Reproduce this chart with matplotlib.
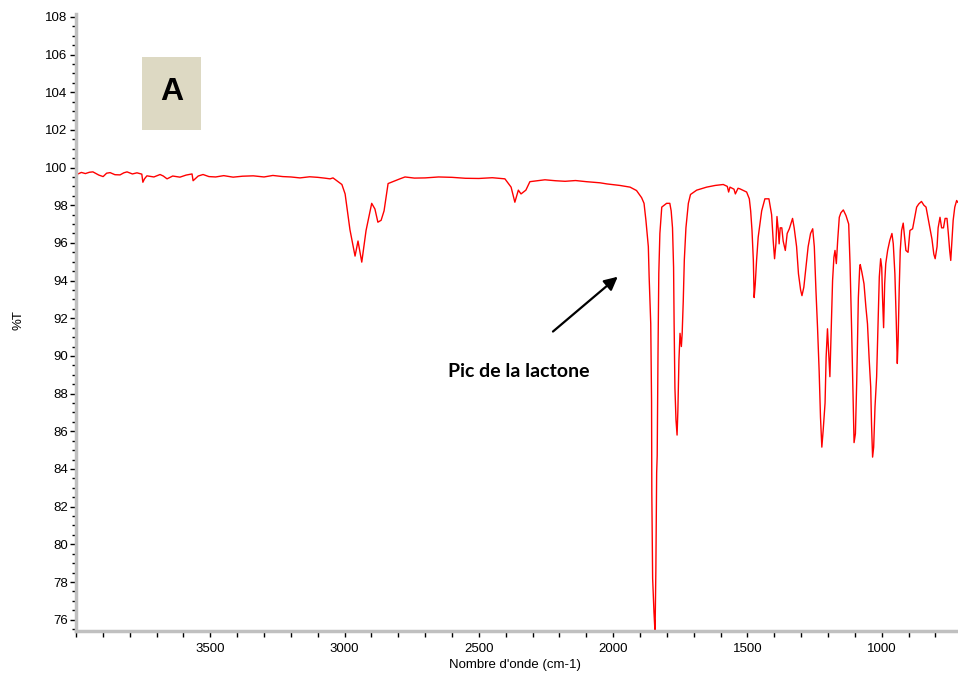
import numpy as np
import matplotlib.pyplot as plt
from matplotlib.ticker import MultipleLocator, FixedLocator
from matplotlib.patches import Rectangle

# spectre IR (nombre d'onde en cm-1, %T)
wavenumber = [
    4000, 3993, 3980, 3965, 3950, 3937, 3915, 3899, 3886, 3873, 3855, 3836, 3822, 3810,
    3790, 3773, 3755, 3751, 3745, 3736, 3710, 3687, 3675, 3661, 3640, 3613, 3590, 3568,
    3564, 3545, 3527, 3505, 3480, 3450, 3415, 3380, 3340, 3300, 3267, 3230, 3200, 3166,
    3130, 3100, 3075, 3054, 3043, 3010, 2998, 2980, 2961, 2950, 2936, 2920, 2899, 2887,
    2876, 2864, 2853, 2838, 2794, 2775, 2740, 2700, 2650, 2600, 2550, 2500, 2450, 2403,
    2380, 2366, 2353, 2343, 2325, 2310, 2254, 2215, 2179, 2140, 2100, 2049, 2023, 1975,
    1937, 1913, 1894, 1885, 1878, 1869, 1866, 1860, 1857, 1856, 1853, 1848, 1844, 1841,
    1838, 1836, 1833, 1830, 1826, 1819, 1801, 1789, 1784, 1779, 1775, 1773, 1770, 1766,
    1762, 1759, 1755, 1751, 1746, 1743, 1739, 1735, 1729, 1720, 1712, 1689, 1652, 1620,
    1590, 1575, 1570, 1565, 1550, 1545, 1535, 1528, 1503, 1493, 1488, 1483, 1478, 1475,
    1471, 1466, 1460, 1447, 1435, 1420, 1410, 1404, 1399, 1394, 1390, 1385, 1382, 1378,
    1372, 1367, 1359, 1352, 1344, 1332, 1326, 1317, 1310, 1302, 1297, 1290, 1282, 1274,
    1265, 1257, 1251, 1245, 1239, 1233, 1228, 1223, 1218, 1211, 1207, 1202, 1198, 1193,
    1188, 1183, 1178, 1174, 1169, 1164, 1158, 1152, 1143, 1133, 1123, 1118, 1112, 1107,
    1103, 1098, 1093, 1087, 1082, 1080, 1074, 1066, 1059, 1053, 1047, 1041, 1038, 1034,
    1030, 1025, 1019, 1014, 1009, 1004, 1000, 997, 993, 989, 985, 978, 970, 962,
    957, 951, 946, 942, 939, 935, 931, 926, 920, 915, 910, 902, 895, 885,
    878, 870, 862, 852, 843, 835, 828, 821, 813, 806, 801, 794, 790, 783,
    777, 770, 764, 757, 752, 747, 743, 740, 734, 728, 721, 717,
]
transmittance = [
    99.70, 99.66, 99.74, 99.68, 99.75, 99.77, 99.60, 99.52, 99.70, 99.73, 99.62, 99.61, 99.72, 99.77,
    99.66, 99.72, 99.65, 99.22, 99.40, 99.56, 99.50, 99.63, 99.55, 99.40, 99.55, 99.49, 99.60, 99.66,
    99.30, 99.55, 99.63, 99.52, 99.50, 99.57, 99.49, 99.54, 99.56, 99.50, 99.58, 99.52, 99.50, 99.45,
    99.51, 99.48, 99.44, 99.40, 99.45, 99.10, 98.60, 96.70, 95.30, 96.10, 94.98, 96.66, 98.10, 97.80,
    97.10, 97.20, 97.70, 99.15, 99.40, 99.50, 99.44, 99.45, 99.50, 99.48, 99.43, 99.42, 99.46, 99.40,
    98.96, 98.16, 98.80, 98.60, 98.80, 99.25, 99.35, 99.30, 99.27, 99.31, 99.25, 99.19, 99.13, 99.05,
    98.96, 98.78, 98.40, 98.10, 97.20, 95.80, 94.20, 91.70, 87.60, 82.70, 78.20, 76.40, 75.30, 78.60,
    83.80, 84.70, 90.10, 94.40, 96.50, 97.90, 98.10, 98.10, 97.70, 96.80, 94.70, 91.70, 88.30, 86.60,
    85.80, 87.10, 89.80, 91.20, 90.50, 91.20, 92.90, 95.10, 96.80, 98.10, 98.57, 98.80, 98.96, 99.05,
    99.10, 99.00, 98.70, 98.96, 98.85, 98.60, 98.90, 98.87, 98.70, 98.34, 97.70, 96.66, 95.07, 93.10,
    93.80, 95.07, 96.30, 97.70, 98.34, 98.34, 97.50, 96.10, 95.16, 95.95, 97.40, 96.66, 95.95, 96.80,
    96.80, 96.10, 95.60, 96.50, 96.75, 97.30, 96.80, 95.80, 94.36, 93.50, 93.20, 93.65, 94.70, 95.80,
    96.50, 96.75, 95.80, 93.50, 91.50, 89.20, 86.75, 85.16, 86.05, 87.50, 89.94, 91.44, 90.30, 88.90,
    91.50, 94.00, 95.24, 95.60, 94.90, 96.13, 97.36, 97.60, 97.75, 97.45, 97.00, 94.90, 91.35, 87.98,
    85.40, 85.87, 88.70, 93.10, 94.70, 94.85, 94.45, 93.83, 92.60, 91.70, 89.90, 88.35, 86.40, 84.63,
    85.16, 87.30, 88.90, 91.50, 94.20, 95.16, 94.70, 93.10, 91.50, 93.83, 94.90, 95.60, 96.13, 96.50,
    95.95, 94.36, 91.90, 89.60, 90.80, 93.50, 95.60, 96.66, 97.05, 96.30, 95.60, 95.50, 96.66, 96.75,
    97.30, 97.90, 98.07, 98.20, 98.00, 97.90, 97.36, 96.80, 96.20, 95.40, 95.16, 95.80, 96.80, 97.36,
    96.80, 96.80, 97.30, 97.30, 96.50, 95.60, 95.07, 95.80, 97.20, 97.90, 98.25, 98.16,
]
x_labels = [3500, 3000, 2500, 2000, 1500, 1000]

fig = plt.figure(figsize=(9.58, 6.77), dpi=100)
ax = fig.add_axes([76 / 958, 1 - 631 / 677, 1 - 76 / 958, (631 - 14) / 677])

ax.plot(wavenumber, transmittance, color='#ff0000', linewidth=1.0)

ax.set_xlim(4000, 716)
ax.set_ylim(75.4, 108.15)

ax.xaxis.set_major_locator(FixedLocator(x_labels))
ax.xaxis.set_minor_locator(MultipleLocator(100))
ax.yaxis.set_major_locator(MultipleLocator(2))
ax.yaxis.set_minor_locator(MultipleLocator(0.5))

for s in ['top', 'right']:
    ax.spines[s].set_visible(False)
for s in ['left', 'bottom']:
    ax.spines[s].set_color('#c0c0c0')
    ax.spines[s].set_linewidth(2.5)

ax.tick_params(which='major', direction='out', length=4, width=1, color='black',
               labelsize=9.5)
ax.tick_params(axis='y', which='major', pad=2)
ax.tick_params(axis='x', which='major', pad=5)
ax.tick_params(which='minor', direction='out', length=3, width=1, color='black')
ax.tick_params(axis='x', which='minor', length=4)
for lab in ax.get_xticklabels() + ax.get_yticklabels():
    lab.set_family('Liberation Sans')

fig.text(18 / 958, 1 - 320 / 677, '%T', rotation=90, ha='center', va='center',
         fontsize=9.5, family='Liberation Sans')
fig.text(515 / 958, 1 - 665 / 677, "Nombre d'onde (cm-1)", ha='center', va='center',
         fontsize=9.5, family='Liberation Sans')

# cadre "A"
fig.patches.append(Rectangle((142 / 958, 1 - 130 / 677), 59 / 958, 73 / 677,
                             transform=fig.transFigure, facecolor='#ddd9c3',
                             edgecolor='none', zorder=3))
fig.text(172 / 958, 1 - 92 / 677, 'A', ha='center', va='center', fontsize=23,
         fontweight='bold', family='Liberation Sans', zorder=4)

# annotation
ax.annotate('', xy=(1975, 94.3), xytext=(2232, 91.2),
            arrowprops=dict(arrowstyle='-|>', color='black', lw=1.6, mutation_scale=20))
ax.text(2351, 89.2, 'Pic de la lactone', ha='center', va='center', fontsize=14,
        fontweight='bold', family='Lato')

fig.savefig('out.png', dpi=100)
